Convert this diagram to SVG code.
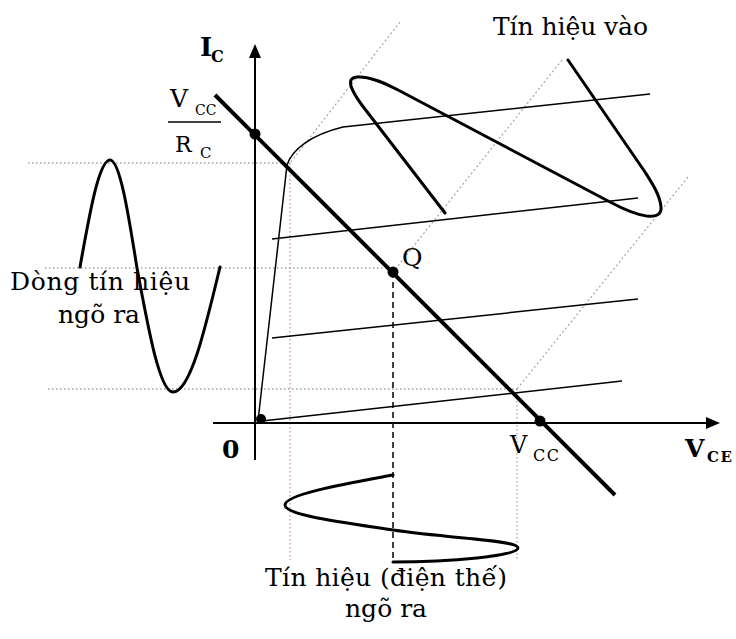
<svg xmlns="http://www.w3.org/2000/svg" width="736" height="639" viewBox="0 0 736 639">
<defs>
<style>
.t{font-family:"DejaVu Serif","Liberation Serif",serif;fill:#000}
.b{font-weight:bold}
.ax{stroke:#000;stroke-width:2;fill:none}
.ch{stroke:#000;stroke-width:1.5;fill:none}
.sig{stroke:#000;stroke-width:3;fill:none;stroke-linecap:round;stroke-linejoin:round}
.dh{stroke:#777;stroke-width:1.2;stroke-dasharray:1.5 2.5;fill:none}
.dv{stroke:#c08a8a;stroke-width:1.2;stroke-dasharray:1.5 2.5;fill:none}
.dd{stroke:#9aab9a;stroke-width:1.2;stroke-dasharray:2 2.5;fill:none}
</style>
</defs>
<rect width="736" height="639" fill="#fff"/>
<g id="guides">
<path class="dh" d="M28,163H290M45,268H393M48,389H517"/>
<path class="dv" d="M290,163V560M517,389V560"/>
<path class="dd" d="M400,22L290,163M562,60L393,272M688,177L517,389"/>
</g>
<g id="axes">
<path class="ax" d="M255,460V56"/>
<polygon points="255,44 249,58 261,58" fill="#000"/>
<path class="ax" d="M213,423H708"/>
<polygon points="720,423 706,417 706,429" fill="#000"/>
</g>
<g id="characteristics">
<path class="ch" d="M258,421L287,165C292,150 310,135 343,127L650,94"/>
<path class="ch" d="M272,239L638,198"/>
<path class="ch" d="M272,338L638,299"/>
<path class="ch" d="M262,421L622,381"/>
</g>
<g id="connectors">
<path d="M215,95L615,495" stroke="#000" stroke-width="4" fill="none"/>
<path d="M393,272V562" stroke="#000" stroke-width="1.5" stroke-dasharray="6 4" fill="none"/>
</g>
<g id="points">
<circle cx="255" cy="134" r="5.5"/>
<circle cx="393" cy="272" r="5.5"/>
<circle cx="540" cy="421" r="5.5"/>
<circle cx="261" cy="419" r="5"/>
</g>
<g id="input-signal">
<path class="sig" d="M445,213L368,113C352,93 344,78 357,77C370,76 385,83 400,91L610,202C640,218 662,222 661,207C660,195 652,183 645,172L568,60"/>
</g>
<g id="output-current">
<path class="sig" d="M80,267C89.8,212 99.1,160 110,160C119.8,160 128.2,212.7 137,268C148.7,331.5 159.9,392 173,392C190.1,392 204.7,331 220,267"/>
</g>
<g id="output-voltage">
<path class="sig" d="M393,475C350,483 285,494 285,505C285,515 340,522 393,530C455,539 518,540 518,548C518,556 450,562 393,562"/>
</g>
<g id="labels">
<text class="t b" x="200" y="56" font-size="26">I</text>
<text class="t b" x="211" y="62" font-size="16">C</text>
<text class="t" x="170" y="107" font-size="25">V</text>
<text class="t" x="195" y="115" font-size="14">CC</text>
<path d="M168,122H221" stroke="#000" stroke-width="1.5"/>
<text class="t" x="175" y="152" font-size="22">R</text>
<text class="t" x="200" y="158" font-size="15">C</text>
<text class="t" x="493" y="35" font-size="25" textLength="155">Tín hiệu vào</text>
<text class="t" x="10" y="290" font-size="25" textLength="180">Dòng tín hiệu</text>
<text class="t" x="58" y="323" font-size="25" textLength="82">ngõ ra</text>
<text class="t" x="402" y="266" font-size="25">Q</text>
<text class="t b" x="222" y="458" font-size="25">0</text>
<text class="t" x="510" y="453" font-size="24">V</text>
<text class="t" x="533" y="461" font-size="16" textLength="26">CC</text>
<text class="t b" x="685" y="457" font-size="25">V</text>
<text class="t b" x="707" y="462" font-size="15" textLength="25">CE</text>
<text class="t" x="265" y="586" font-size="25" textLength="242">Tín hiệu (điện thế)</text>
<text class="t" x="345" y="617" font-size="25" textLength="82">ngõ ra</text>
</g>
</svg>
